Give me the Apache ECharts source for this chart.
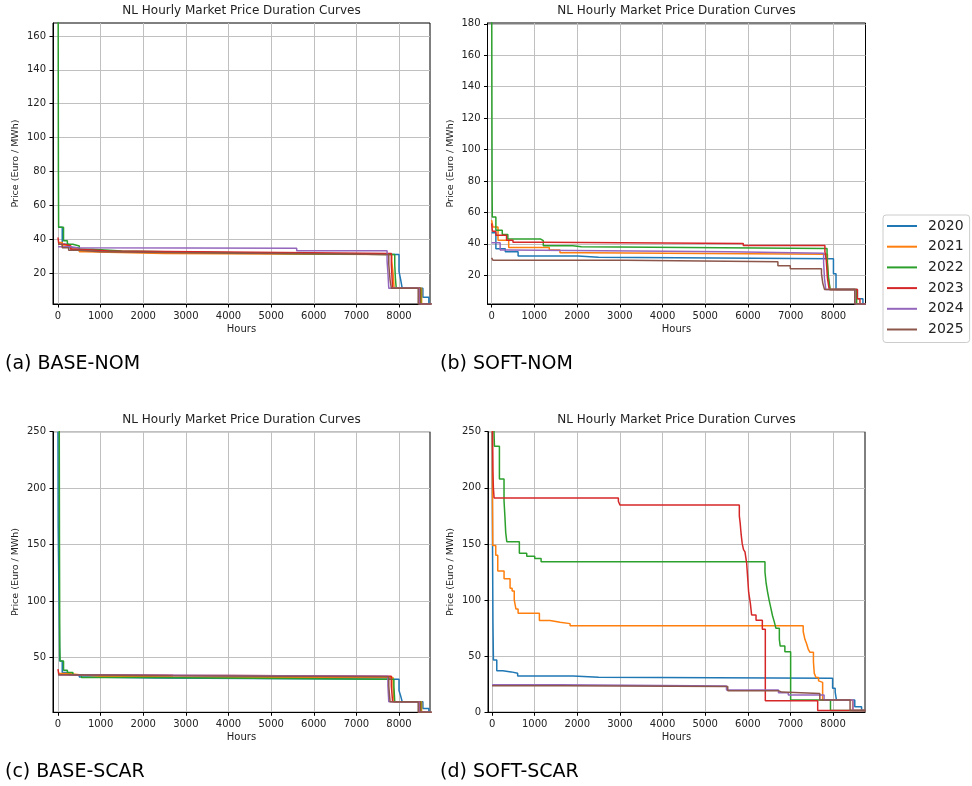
<!DOCTYPE html>
<html>
<head>
<meta charset="utf-8">
<script src="https://cdn.jsdelivr.net/npm/echarts@6/dist/echarts.min.js"></script>
<style>
html, body { margin: 0; padding: 0; background: #fff; }
#chart { width: 972px; height: 786px; }
</style>
</head>
<body>
<div id="chart"></div>
<script>
var years = ['2020', '2021', '2022', '2023', '2024', '2025'];
var colors = ['#1f77b4', '#ff7f0e', '#2ca02c', '#d62728', '#9467bd', '#8c564b'];
var captions = ['(a) BASE-NOM', '(b) SOFT-NOM', '(c) BASE-SCAR', '(d) SOFT-SCAR'];
var hourTicks = [0, 1000, 2000, 3000, 4000, 5000, 6000, 7000, 8000];
var priceTicksA = [20, 40, 60, 80, 100, 120, 140, 160];
var priceTicksB = [20, 40, 60, 80, 100, 120, 140, 160, 180];
var priceTicksC = [50, 100, 150, 200, 250];
var priceTicksD = [0, 50, 100, 150, 200, 250];

// duration curves, [hour, price] where the price holds until the next hour
var baseNom = [
  [[0,47],[100,37],[250,35],[500,33],[700,32],[2400,31],[8000,21],[8040,16],[8075,11],[8560,5.7],[8700,1.7],[8760,1.7]],
  [[0,38],[100,36],[300,34],[500,32.5],[650,31.5],[2500,31],[7830,27],[7860,20],[7885,11],[8530,1.7],[8760,1.7]],
  [[0,400],[5,160],[10,80],[15,47],[130,39],[220,37],[350,36],[500,34],[800,33],[1500,32.5],[2500,31.5],[5400,31],[7900,25],[7915,17],[7935,11],[8510,1.7],[8760,1.7]],
  [[0,41],[20,37],[150,36],[300,34],[500,33],[1200,32],[5900,31.5],[7820,25],[7850,11],[8490,1.7],[8760,1.7]],
  [[0,35.5],[300,35],[450,34.6],[5600,33.2],[7720,27],[7740,20],[7760,11],[8470,1.7],[8760,1.7]],
  [[0,37],[100,35],[250,33.5],[500,32.5],[1000,32],[3000,31.5],[5500,31],[7760,25],[7790,16],[7820,11],[8450,1.7],[8760,1.7]]
];
var softNom = [
  [[0,47],[100,36.8],[320,35],[620,32.2],[2020,31.4],[2500,30.5],[8000,21],[8060,11],[8560,5],[8690,1.7],[8760,1.7]],
  [[0,55],[30,50.7],[150,42.3],[400,37.7],[1350,36],[1600,34.3],[2200,33.3],[7860,28],[7880,18],[7920,11],[8540,1.7],[8760,1.7]],
  [[0,400],[4,180],[8,120],[12,75],[16,57],[100,48.6],[250,46],[380,43],[1150,42],[1210,38.7],[1900,38.1],[2100,37],[7850,30],[7880,20],[7920,11],[8540,1.7],[8760,1.7]],
  [[0,53],[20,48],[100,45.5],[350,42.3],[500,41],[1150,40.2],[5890,38.9],[7800,35],[7830,30],[7860,18],[7900,11],[8560,5],[8620,1.7],[8760,1.7]],
  [[0,40.6],[200,36],[400,35],[5560,34],[7770,28],[7790,18],[7820,11],[8500,1.7],[8760,1.7]],
  [[0,31],[30,29.6],[3130,28.6],[6700,26.1],[6990,24.2],[7720,21],[7750,15],[7790,11],[8500,1.7],[8760,1.7]]
];
var baseScar = [
  [[0,250],[5,166],[40,47],[100,37],[250,35],[500,33],[700,32],[2300,31],[8000,21],[8040,16],[8075,11],[8560,5],[8700,1.7],[8760,1.7]],
  [[0,36],[250,35],[500,33.5],[1000,33],[2700,32.5],[7860,25],[7885,11],[8530,1.7],[8760,1.7]],
  [[0,400],[30,250],[35,150],[42,60],[50,47],[130,39],[220,37],[350,35],[550,32.4],[2000,31],[7880,25],[7900,11],[8510,1.7],[8760,1.7]],
  [[0,40],[20,35],[100,34.4],[2700,33.5],[7820,25],[7850,11],[8490,1.7],[8760,1.7]],
  [[0,35],[300,34.5],[2600,33.5],[7740,25],[7760,11],[8470,1.7],[8760,1.7]],
  [[0,35],[200,34],[2650,33.2],[7760,25],[7790,11],[8450,1.7],[8760,1.7]]
];
var softScar = [
  [[0,250],[10,150],[20,80],[31,46.6],[110,37],[250,36],[450,34.7],[600,32.4],[1900,31.2],[2500,30.3],[7990,21.4],[8050,18],[8080,11],[8510,5],[8670,1.7],[8760,1.7]],
  [[0,400],[8,200],[16,148.7],[86,140],[133,126],[281,119],[422,110.5],[470,108],[520,100],[560,92],[610,88.2],[1110,81.7],[1360,80.2],[1595,79],[1830,77.2],[7300,72],[7340,65],[7380,61],[7420,56],[7460,53.4],[7540,45],[7560,34.7],[7600,31],[7660,28],[7700,26.7],[7756,11],[8460,1.7],[8760,1.7]],
  [[0,400],[45,250],[55,237],[172,207.8],[280,188.5],[300,175],[320,160],[345,152],[640,141.6],[813,139],[1000,137],[1150,134.2],[6403,125],[6430,115],[6460,108],[6500,100],[6540,93],[6580,86],[6620,80.8],[6660,74.8],[6740,65],[6760,59],[6870,54],[7005,11],[7940,1.7],[8760,1.7]],
  [[0,400],[10,250],[20,215],[30,200],[47,190.9],[2963,188],[3000,184.7],[5801,175],[5820,169],[5845,158],[5870,150],[5900,145],[5934,143],[5973,133],[5997,120],[6020,107],[6060,97],[6090,86.7],[6193,82],[6341,74],[6411,10.4],[7640,1.7],[8760,1.7]],
  [[0,24.5],[1600,23.4],[5500,19.9],[6720,17.5],[6950,15.4],[7790,11],[8470,1.7],[8760,1.7]],
  [[0,23.7],[1700,22.9],[5530,19.3],[6710,18],[6800,16.7],[7690,11],[8400,1.7],[8760,1.7]]
];

var panels = [
  { curves: baseNom,  yTicks: priceTicksA, box: [53, 23, 377, 281],      xr: [-117, 8727], yr: [1.7, 167.7], cap: [5, 364] },
  { curves: softNom,  yTicks: priceTicksB, box: [487.5, 23, 378, 281],   xr: [-96, 8750],  yr: [1.7, 180.5], cap: [440, 364] },
  { curves: baseScar, yTicks: priceTicksC, box: [53, 431.7, 377, 280.6], xr: [-117, 8727], yr: [1.7, 250],   cap: [5, 772] },
  { curves: softScar, yTicks: priceTicksD, box: [488, 431.7, 377, 280.6],xr: [-96, 8750],  yr: [0, 250],     cap: [440, 772] }
];

var font = '"DejaVu Sans", sans-serif';
var txt = '#222';
var plain = function (v) { return String(v); };
var grids = [], xAxes = [], yAxes = [], titles = [], series = [], texts = [];

panels.forEach(function (p, gi) {
  var b = p.box;
  grids.push({ left: b[0], top: b[1], width: b[2], height: b[3], show: true,
    borderColor: '#000', borderWidth: 1, backgroundColor: 'transparent', outerBoundsMode: 'none', containLabel: false });
  xAxes.push({
    type: 'value', gridIndex: gi, min: p.xr[0], max: p.xr[1],
    name: 'Hours', nameLocation: 'middle', nameGap: 20, nameMoveOverlap: false,
    nameTextStyle: { fontFamily: font, fontSize: 10, color: txt },
    axisLine: { show: true, onZero: false, lineStyle: { color: '#000', width: 1 } },
    axisTick: { show: true, length: 3.5, customValues: hourTicks, lineStyle: { color: '#000' } },
    axisLabel: { customValues: hourTicks, formatter: plain, margin: 7, fontFamily: font, fontSize: 10, color: txt },
    splitLine: { show: true, lineStyle: { color: '#c0c0c0', width: 1 } }
  });
  yAxes.push({
    type: 'value', gridIndex: gi, min: p.yr[0], max: p.yr[1],
    name: 'Price (Euro / MWh)', nameLocation: 'middle', nameGap: 32, nameMoveOverlap: false,
    nameTextStyle: { fontFamily: font, fontSize: 9.5, color: txt },
    axisLine: { show: true, onZero: false, lineStyle: { color: '#000', width: 1 } },
    axisTick: { show: true, length: 3.5, customValues: p.yTicks, lineStyle: { color: '#000' } },
    axisLabel: { customValues: p.yTicks, formatter: plain, margin: 7, fontFamily: font, fontSize: 10, color: txt },
    splitLine: { show: true, lineStyle: { color: '#c0c0c0', width: 1 } }
  });
  titles.push({
    text: 'NL Hourly Market Price Duration Curves',
    left: b[0] + b[2] / 2, top: b[1] - 18, textAlign: 'center', padding: 0,
    textStyle: { fontFamily: font, fontSize: 12, fontWeight: 'normal', color: txt }
  });
  texts.push({
    type: 'text', x: p.cap[0], y: p.cap[1],
    style: { text: captions[gi], font: '19px ' + font, fill: '#000', verticalAlign: 'middle' }
  });
  p.curves.forEach(function (curve, k) {
    series.push({
      name: years[k], type: 'line', xAxisIndex: gi, yAxisIndex: gi,
      data: curve, step: 'end', symbol: 'none', showSymbol: false,
      color: colors[k], lineStyle: { width: 1.5, color: colors[k] },
      emphasis: { disabled: true }, clip: true
    });
  });
});

var chart = echarts.init(document.getElementById('chart'));
chart.setOption({
  animation: false,
  backgroundColor: '#fff',
  title: titles,
  grid: grids,
  xAxis: xAxes,
  yAxis: yAxes,
  legend: {
    data: years, orient: 'vertical', left: 883, top: 215,
    padding: [4, 6, 6, 4], itemGap: 6.7, itemWidth: 30, itemHeight: 2, icon: 'rect',
    backgroundColor: '#fff', borderColor: '#cccccc', borderWidth: 1, borderRadius: 3,
    selectedMode: false,
    textStyle: { fontFamily: font, fontSize: 14, lineHeight: 14, color: txt, padding: [0, 0, 0, 6] }
  },
  tooltip: { show: false },
  graphic: texts,
  series: series
});
</script>
</body>
</html>
